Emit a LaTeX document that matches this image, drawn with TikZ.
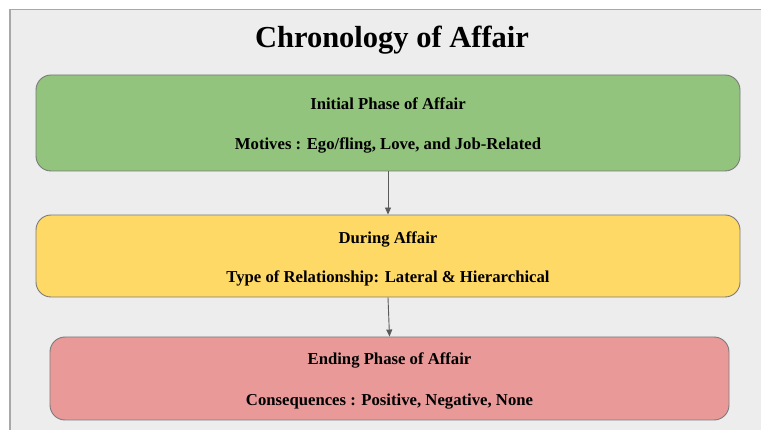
\documentclass[tikz,border=0pt]{standalone}
\usepackage{fontspec}
\setmainfont{Liberation Serif}[BoldFont={Liberation Serif Bold}]
\newfontfamily\diagfont{Liberation Serif Bold}
\usetikzlibrary{arrows.meta}
\definecolor{bggray}{HTML}{EDEDED}
\definecolor{framegray}{HTML}{A8A8A8}
\definecolor{boxline}{HTML}{7A7A7A}
\definecolor{greenfill}{HTML}{93C47D}
\definecolor{yellowfill}{HTML}{FFD966}
\definecolor{redfill}{HTML}{EA9999}
\definecolor{arrowgray}{HTML}{5A5A5A}
\tikzset{
  phasebox/.style={draw=boxline, line width=0.9pt, rounded corners=15pt, inner sep=0pt},
  phasetext/.style={font=\diagfont\fontsize{16.7}{20}\selectfont, inner sep=0pt, anchor=base},
  flowarrow/.style={draw=arrowgray, line width=0.9pt, -{Triangle[length=7pt,width=6pt]}}
}
\begin{document}
\begin{tikzpicture}[x=1pt,y=-1pt]
\useasboundingbox (0,0) rectangle (761,430);
\fill[white] (0,0) rectangle (761,430);
\fill[bggray] (10,9.5) rectangle (761,430);
\draw[framegray, line width=1.2pt] (10,430) -- (10,9.5) -- (761,9.5);
\node[font=\diagfont\fontsize{30.5}{34}\selectfont, inner sep=0pt, anchor=base] (title) at (392,48) {Chronology of Affair};
\node[phasebox, fill=greenfill, minimum width=704pt, minimum height=96pt] (g) at (388,123) {};
\node[phasebox, fill=yellowfill, minimum width=704pt, minimum height=82pt] (y) at (388,256) {};
\node[phasebox, fill=redfill, minimum width=679pt, minimum height=83pt] (r) at (389.5,378.5) {};
\node[phasetext] (g1) at (388,110) {Initial Phase of Affair};
\node[phasetext] (g2) at (388,150) {Motives : Ego/fling, Love, and Job-Related};
\node[phasetext] (y1) at (388,243.5) {During Affair};
\node[phasetext] (y2) at (388,283) {Type of Relationship: Lateral \& Hierarchical};
\node[phasetext] (r1) at (389.5,365) {Ending Phase of Affair};
\node[phasetext] (r2) at (389.5,405.5) {Consequences : Positive, Negative, None};
\draw[flowarrow] (g.south) -- (y.north);
\draw[flowarrow] (y.south) -- (r.north);
\end{tikzpicture}
\end{document}
